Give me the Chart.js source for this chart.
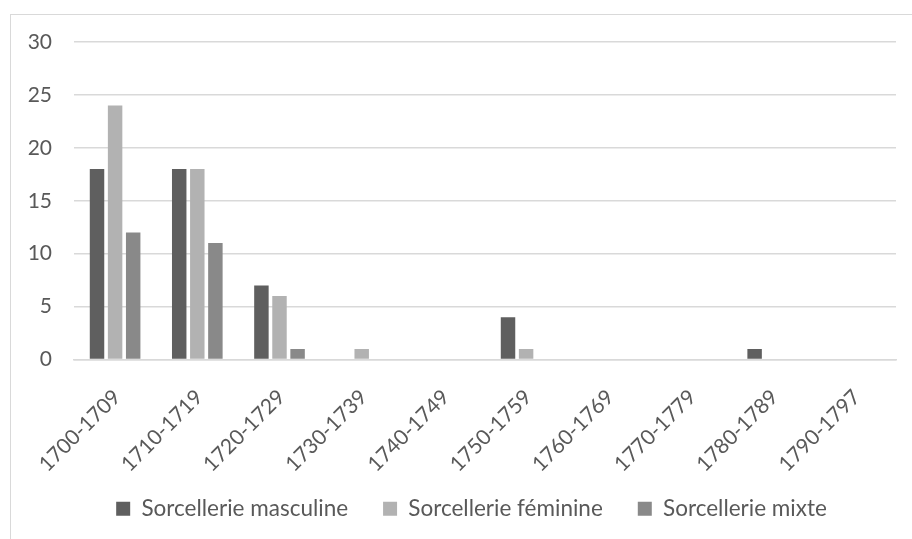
<!DOCTYPE html>
<html>
<head>
<meta charset="utf-8">
<script src="https://cdn.jsdelivr.net/npm/chart.js@4"></script>
<style>
  html, body { margin: 0; padding: 0; background: #ffffff; overflow: hidden; }
  #frame { position: absolute; left: 10px; top: 14px; width: 940px; height: 560px; border: 1px solid #d9d9d9; }
  #box { position: absolute; left: 0; top: 0; width: 925px; height: 530px; }
</style>
</head>
<body>
<div id="frame"><div id="box"><canvas id="chart"></canvas></div></div>
<script>
// decades
const categories = ["1700-1709", "1710-1719", "1720-1729", "1730-1739", "1740-1749",
  "1750-1759", "1760-1769", "1770-1779", "1780-1789", "1790-1797"];
// counts per series
const masculine = [18, 18, 7, 0, 0, 4, 0, 0, 1, 0];
const feminine = [24, 18, 6, 1, 0, 1, 0, 0, 0, 0];
const mixte = [12, 11, 1, 0, 0, 0, 0, 0, 0, 0];
const yTicks = [0, 5, 10, 15, 20, 25, 30];

const textColor = "#595959";
const gridColor = "#d9d9d9";
const fontFamily = "Lato, 'Liberation Sans', sans-serif";
const tickSize = 21;
const legendSize = 22.5;

//axis labels drawn by hand: slanted ones hang past the plot, and the
//built-in y labels would add padding above the plot
const axisLabels = {
  id: "axisLabels",
  afterLayout(chart) {
    //legend is centred on the whole frame, not on the plot
    chart.legend.left += 18;
    chart.legend.right += 18;
  },
  afterDraw(chart) {
    const ctx = chart.ctx;
    const x = chart.scales.x;
    const y = chart.scales.y;
    ctx.save();
    ctx.fillStyle = textColor;
    ctx.font = tickSize + "px " + fontFamily;
    ctx.textAlign = "right";
    ctx.textBaseline = "middle";
    yTicks.forEach((v) => {
      ctx.fillText(String(v), chart.chartArea.left - 22, y.getPixelForValue(v));
    });
    x.ticks.forEach((t, i) => {
      ctx.save();
      ctx.translate(x.getPixelForTick(i) + 2, x.top + 34);
      ctx.rotate(-Math.PI / 4);
      ctx.fillText(chart.data.labels[i], 0, 0);
      ctx.restore();
    });
    ctx.restore();
  },
};

let myChart = new Chart(document.getElementById("chart"), {
  type: "bar",
  plugins: [axisLabels],
  data: {
    labels: categories,
    datasets: [
      { label: "Sorcellerie masculine", data: masculine, backgroundColor: "#5f5f5f" },
      { label: "Sorcellerie féminine", data: feminine, backgroundColor: "#b2b2b2" },
      { label: "Sorcellerie mixte", data: mixte, backgroundColor: "#898989" },
    ],
  },
  options: {
    responsive: true,
    maintainAspectRatio: false,
    animation: false,
    layout: { padding: { left: 0, right: 40, top: 27, bottom: 15 } },
    datasets: { bar: { categoryPercentage: 0.66, barPercentage: 0.8, borderWidth: 0 } },
    plugins: {
      tooltip: { enabled: false },
      legend: {
        position: "bottom",
        labels: {
          color: textColor,
          font: { family: fontFamily, size: legendSize },
          boxWidth: 14,
          boxHeight: 14,
          padding: 35,
        },
      },
    },
    scales: {
      x: {
        grid: { display: false, drawTicks: false },
        border: { color: gridColor, width: 1.5 },
        ticks: { display: false },
        afterFit: (axis) => { axis.height = 103; },
      },
      y: {
        min: 0,
        max: 30,
        afterBuildTicks: (axis) => { axis.ticks = yTicks.map((v) => ({ value: v })); },
        afterFit: (axis) => { axis.width = 63; },
        grid: { color: gridColor, lineWidth: 1.5, drawTicks: false },
        border: { display: false },
        ticks: { display: false },
      },
    },
  },
});
</script>
</body>
</html>
